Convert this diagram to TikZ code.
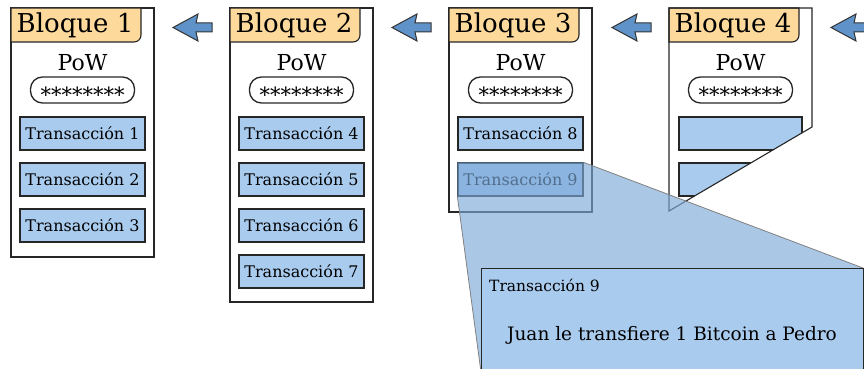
\documentclass[tikz,border=0pt]{standalone}
\usepackage{fontspec}
\setmainfont{DejaVu Serif}
\usetikzlibrary{positioning}

\definecolor{cabecera}{HTML}{FDDA9C}
\definecolor{txazul}{HTML}{A9CBEE}
\definecolor{flechaazul}{HTML}{5E92C8}
\definecolor{lupa}{RGB}{125,169,217}

\tikzset{
  bloque/.style={draw=black!85, line width=1.1pt},
  cab/.style={draw=black!85, line width=1.1pt, fill=cabecera},
  tx/.style={draw=black!85, line width=1.2pt, fill=txazul, minimum width=125pt, minimum height=33pt, inner sep=0pt, font=\fontsize{16}{18}\selectfont},
  hash/.style={draw=black!85, line width=1.3pt, rounded corners=12pt, minimum width=104pt, minimum height=26pt, inner sep=0pt, font=\fontsize{21}{24}\selectfont},
  flecha/.style={draw=black!80, line width=1pt, fill=flechaazul},
}

\begin{document}
\begin{tikzpicture}[x=1pt, y=-1pt]
  \useasboundingbox (0,0) rectangle (864,369);
  \clip (0,0) rectangle (864,369);

  % Block outlines
  \draw[bloque] (11,8) rectangle (154,257);
  \draw[bloque] (230,8) rectangle (373,302);
  \draw[bloque] (449,8) rectangle (592,212);

  % Headers, proof of work and hash
  \foreach \x [count=\i] in {11,230,449,669} {
    \filldraw[cab] (\x,42) -- (\x,8) -- ++(130,0) -- ++(0,27) arc[start angle=0, end angle=90, radius=7] -- cycle;
    \node[font=\fontsize{26}{28}\selectfont] (cab\i) at (\x+64,25) {Bloque \i};
    \node[font=\fontsize{22}{24}\selectfont] (pow\i) at (\x+71.5,63) {PoW};
    \node[hash] (hash\i) at (\x+71.5,90) {\raisebox{-.58em}[0pt][0pt]{********}};
  }

  % Transactions
  \foreach \n [count=\i] in {1,2,3}
    \node[tx] (t\n) at (82.5,133.5+46*\i-46) {Transacción \n};
  \foreach \n [count=\i] in {4,5,6,7}
    \node[tx] (t\n) at (301.5,133.5+46*\i-46) {Transacción \n};
  \node[tx] (t8) at (520.5,133.5) {Transacción 8};
  \node[tx] (t9) at (520.5,179.5) {Transacción 9};

  % Torn block 4
  \begin{scope}
    \clip (669,42) -- (812,42) -- (812,127) -- (669,211) -- cycle;
    \node[tx, minimum width=123pt] (t10) at (740.5,133.5) {};
    \node[tx, minimum width=123pt] (t11) at (740.5,179.5) {};
  \end{scope}
  \draw[bloque] (669,42) -- (669,8) -- (812,8) -- (812,127) -- (669,211) -- cycle;

  % Chain arrows
  \foreach \x in {173,392,612,831}
    \filldraw[flecha] (\x,27.5) -- ++(25,-13.5) -- ++(-2,9) -- ++(16,0) -- ++(0,9) -- ++(-16,0) -- ++(2,9) -- cycle;

  % Zoom on transaction 9
  \coordinate (dne) at (863,268);
  \coordinate (dsw) at (481,372);
  \fill[lupa, opacity=0.65] (t9.south west) -- (t9.north west) -- (t9.north east) -- (dne) -- (863,372) -- (dsw) -- cycle;
  \draw[black!50, line width=0.8pt] (t9.north east) -- (dne);
  \draw[black!50, line width=0.8pt] (t9.south west) -- (dsw);

  \node[draw=black!85, line width=1.2pt, fill=txazul, minimum width=382pt, minimum height=104pt, anchor=north west, inner sep=0pt] (detalle) at (481,268) {};
  \node[anchor=base west, inner sep=0pt, font=\fontsize{15.5}{17}\selectfont] (dtit) at (489,291) {Transacción 9};
  \node[anchor=base, inner sep=0pt, font=\fontsize{18.5}{21}\selectfont] (dtxt) at (672,340) {Juan le transfiere 1 Bitcoin a Pedro};
\end{tikzpicture}
\end{document}
